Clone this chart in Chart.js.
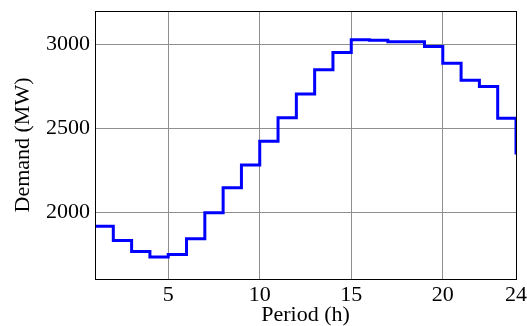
<!DOCTYPE html>
<html>
<head>
<meta charset="utf-8">
<script src="https://cdn.jsdelivr.net/npm/chart.js@4.4.0/dist/chart.umd.min.js"></script>
<style>
  html, body { margin: 0; padding: 0; background: #fff; }
  #wrap { width: 527px; height: 326px; }
</style>
</head>
<body>
<div id="wrap"><canvas id="c"></canvas></div>
<script>
// ==== DATA ====
var hours = [1, 2, 3, 4, 5, 6, 7, 8, 9, 10, 11, 12, 13, 14, 15, 16, 17, 18, 19, 20, 21, 22, 23, 24];
var demand = [1915, 1830, 1764, 1732, 1746, 1841, 1996, 2145, 2280, 2422, 2563, 2704,
              2849, 2952, 3028, 3025, 3017, 3017, 2988, 2888, 2787, 2750, 2560, 2343];
var xTicks = [5, 10, 15, 20, 24];
var yTicks = [2000, 2500, 3000];

var points = hours.map(function (h, i) { return { x: h, y: demand[i] }; });
var serif = '"Liberation Serif", "Times New Roman", serif';

// frame round the plot area (top and right sides too)
var framePlugin = {
  id: 'frame',
  afterDraw: function (chart) {
    var a = chart.chartArea, ctx = chart.ctx;
    ctx.save();
    ctx.strokeStyle = '#000'; ctx.lineWidth = 1;
    ctx.strokeRect(Math.round(a.left) + 0.5, Math.round(a.top) + 0.5,
                   Math.round(a.right - a.left), Math.round(a.bottom - a.top));
    ctx.restore();
  }
};

// labels may overhang the plot edges, keep the plot area fixed
function noOverhang(s) {
  s.paddingLeft = 0; s.paddingRight = 0; s.paddingTop = 0; s.paddingBottom = 0;
}

new Chart(document.getElementById('c').getContext('2d'), {
  type: 'line',
  data: { datasets: [{ data: points, borderColor: '#0000ff', borderWidth: 3,
    stepped: true, fill: false, pointRadius: 0, tension: 0 }] },
  options: {
    responsive: true, maintainAspectRatio: false, animation: false,
    layout: { padding: { top: 11, right: 11, left: 0, bottom: 0 } },
    plugins: { legend: { display: false }, tooltip: { enabled: false } },
    scales: {
      x: {
        type: 'linear', min: 1, max: 24,
        afterBuildTicks: function (s) { s.ticks = xTicks.map(function (v) { return { value: v }; }); },
        afterFit: function (s) { s.height = 47; noOverhang(s); },
        ticks: { color: '#000', font: { family: serif, size: 22, lineHeight: 1 }, padding: 5, maxRotation: 0,
          callback: function (v) { return String(v); } },
        grid: { color: '#8f8f8f', lineWidth: 1, drawTicks: false },
        border: { color: '#000' },
        title: { display: true, text: 'Period (h)', color: '#000', font: { family: serif, size: 22, lineHeight: 1 }, padding: { top: 0, bottom: 0 } }
      },
      y: {
        min: 1600, max: 3200,
        afterBuildTicks: function (s) { s.ticks = yTicks.map(function (v) { return { value: v }; }); },
        afterFit: function (s) { s.width = 95; noOverhang(s); },
        ticks: { color: '#000', font: { family: serif, size: 22 }, padding: 5,
          callback: function (v) { return String(v); } },
        grid: { color: '#8f8f8f', lineWidth: 1, drawTicks: false },
        border: { color: '#000' },
        title: { display: true, text: 'Demand (MW)', color: '#000', font: { family: serif, size: 22, lineHeight: 1 }, padding: { top: 12, bottom: 0 } }
      }
    }
  },
  plugins: [framePlugin]
});
</script>
</body>
</html>
